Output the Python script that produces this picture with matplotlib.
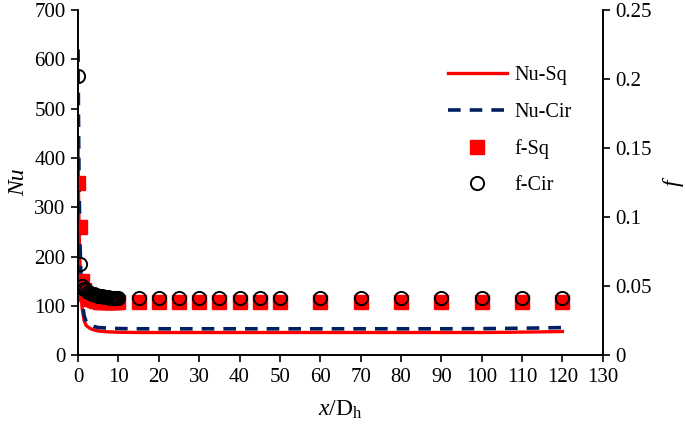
import numpy as np
import matplotlib
matplotlib.use("Agg")
from matplotlib import pyplot as plt

plt.rcParams['font.family'] = ['Liberation Serif', 'DejaVu Serif']
plt.rcParams['mathtext.fontset'] = 'custom'
plt.rcParams['mathtext.rm'] = 'Liberation Serif'
plt.rcParams['mathtext.it'] = 'Liberation Serif:italic'

# Nu curves along the tube (x/Dh)
x_nu = [0, 0.1, 0.25, 0.5, 0.75, 1, 1.5, 2, 3, 4, 5, 7, 10, 15, 20, 30, 40, 50, 60, 70, 80, 90, 100, 105, 110, 115, 120]
nu_sq = [420, 330, 250, 175, 125, 95, 70, 60, 54, 51, 49, 47.5, 46.5, 46, 46, 46, 46, 46, 46, 46, 46, 46, 46, 46.3, 46.8, 47.3, 48]
nu_cir = [620, 480, 340, 220, 150, 110, 80, 68, 61, 58, 56, 55, 54, 53.5, 53.5, 53.5, 53.5, 53.5, 53.5, 53.5, 53.5, 53.5, 53.8, 54.2, 54.7, 55.2, 56]

# friction factor points
x_f = [0, 0.5, 1, 1.5, 2, 2.5, 3, 3.5, 4, 4.5, 5, 5.5, 6, 6.5, 7, 7.5, 8, 8.5, 9, 9.5, 10,
       15, 20, 25, 30, 35, 40, 45, 50, 60, 70, 80, 90, 100, 110, 120]
f_sq = [0.125, 0.093, 0.054, 0.047, 0.044, 0.042, 0.041, 0.0405, 0.040, 0.0395, 0.039, 0.0388, 0.0386,
        0.0385, 0.0384, 0.0383, 0.0383, 0.0382, 0.0382, 0.0382, 0.0382,
        0.0382, 0.0382, 0.0382, 0.0382, 0.0382, 0.0382, 0.0382, 0.0382, 0.0382, 0.0382, 0.0382,
        0.0382, 0.0382, 0.0382, 0.0382]
f_cir = [0.202, 0.066, 0.050, 0.048, 0.047, 0.046, 0.045, 0.0445, 0.044, 0.0435, 0.043, 0.0428, 0.0425,
         0.0423, 0.042, 0.0418, 0.0417, 0.0416, 0.0415, 0.0415, 0.0415,
         0.0414, 0.0414, 0.0414, 0.0414, 0.0414, 0.0414, 0.0414, 0.0414, 0.0414, 0.0414, 0.0414,
         0.0414, 0.0414, 0.0414, 0.0414]

fig = plt.figure(figsize=(6.85, 4.30), dpi=100)
ax = fig.add_axes([0.114, 0.174, 0.766, 0.803])
ax2 = ax.twinx()

l1, = ax.plot(x_nu, nu_sq, color='#ff0000', lw=2.4, label='Nu-Sq')
l2, = ax.plot(x_nu, nu_cir, color='#002060', lw=2.6, ls=(0, (3.5, 2.5)), label='Nu-Cir')
m1, = ax2.plot(x_f, f_sq, ls='none', marker='s', ms=9.5, color='#ff0000', mec='#ff0000', label='f-Sq')
m2, = ax2.plot(x_f, f_cir, ls='none', marker='o', ms=9.5, mfc='none', mec='black', mew=1.4, label='f-Cir')

ax.set_xlim(0, 130)
ax.set_ylim(0, 700)
ax2.set_ylim(0, 0.25)
ax.set_xticks(np.arange(0, 131, 10))
ax.set_yticks(np.arange(0, 701, 100))
ax2.set_yticks([0, 0.05, 0.1, 0.15, 0.2, 0.25])
ax2.set_yticklabels(['0', '0.05', '0.1', '0.15', '0.2', '0.25'])

for a in (ax, ax2):
    a.spines['top'].set_visible(False)
    a.tick_params(direction='out', length=5, width=1.2, labelsize=15, pad=4)
    for s in a.spines.values():
        s.set_linewidth(1.2)

ax.set_xlabel(r'$\mathit{x}$/D$_\mathrm{h}$', fontsize=17, labelpad=9)
ax.set_ylabel('Nu', fontsize=17, style='italic', labelpad=4)
ax2.set_ylabel('f', fontsize=17, style='italic', labelpad=8)

ax2.legend(handles=[l1, l2, m1, m2], loc='upper left', bbox_to_anchor=(0.69, 0.86),
           frameon=False, fontsize=14.5, labelspacing=0.85, handlelength=2.9,
           handletextpad=0.4, borderaxespad=0)

fig.savefig('out.png', dpi=100)
